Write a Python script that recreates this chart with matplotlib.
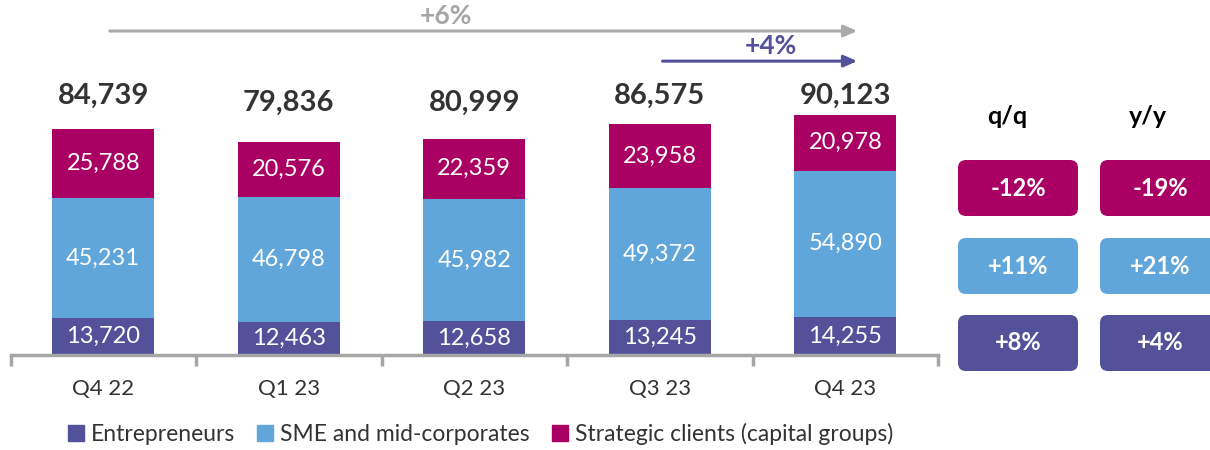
import matplotlib
matplotlib.use("Agg")
import matplotlib.pyplot as plt
from matplotlib.patches import FancyBboxPatch
from matplotlib.lines import Line2D

plt.rcParams['font.family'] = ['Lato', 'DejaVu Sans']

# loans by segment, PLN m
quarters = ["Q4 22", "Q1 23", "Q2 23", "Q3 23", "Q4 23"]
entrepreneurs = [13720, 12463, 12658, 13245, 14255]
sme = [45231, 46798, 45982, 49372, 54890]
strategic = [25788, 20576, 22359, 23958, 20978]
totals = [84739, 79836, 80999, 86575, 90123]

# dynamics panel (rows: strategic, sme, entrepreneurs)
qq = ["-12%", "+11%", "+8%"]
yy = ["-19%", "+21%", "+4%"]

c_ent = "#525199"
c_sme = "#61A6DA"
c_str = "#AA0063"
c_axis = "#A6A6A6"
c_txt = "#333333"

fig = plt.figure(figsize=(12.1, 4.5), dpi=100)
ax = fig.add_axes([10.5 / 1210, 95 / 450, 927.5 / 1210, 355 / 450])

x = list(range(len(quarters)))
w = 0.55
bot2 = [a + b for a, b in zip(entrepreneurs, sme)]
ax.bar(x, entrepreneurs, w, color=c_ent)
ax.bar(x, sme, w, bottom=entrepreneurs, color=c_sme)
ax.bar(x, strategic, w, bottom=bot2, color=c_str)

for i in x:
    ax.text(i, entrepreneurs[i] / 2, f"{entrepreneurs[i]:,}", ha="center",
            va="center", color="white", fontsize=17)
    ax.text(i, entrepreneurs[i] + sme[i] / 2, f"{sme[i]:,}", ha="center",
            va="center", color="white", fontsize=17)
    ax.text(i, bot2[i] + strategic[i] / 2, f"{strategic[i]:,}", ha="center",
            va="center", color="white", fontsize=17)
    # totals sit a little lower over the shorter bars
    ty = 97000 if totals[i] > 84000 else 94500
    ax.text(i, ty, f"{totals[i]:,}", ha="center", va="center",
            color=c_txt, fontsize=21, fontweight="bold")

ax.set_xlim(-0.5, 4.5)
ax.set_ylim(0, 133125)
for s in ["top", "right", "left"]:
    ax.spines[s].set_visible(False)
ax.spines["bottom"].set_color(c_axis)
ax.spines["bottom"].set_linewidth(2.5)
ax.set_yticks([])
ax.set_xticks(x)
ax.set_xticklabels(quarters, fontsize=16, color=c_txt)
ax.tick_params(axis="x", which="major", length=0, pad=17)
ax.set_xticks([i - 0.5 for i in range(len(quarters) + 1)], minor=True)
ax.tick_params(axis="x", which="minor", length=8, width=2.5, color=c_axis)

# growth arrows
ax.annotate("", xy=(4.08, 121500), xytext=(0.02, 121500),
            arrowprops=dict(arrowstyle="-|>,head_length=0.8,head_width=0.35",
                            color="#AAAAAA", lw=2.2))
ax.text(1.85, 127200, "+6%", ha="center", va="center", color="#A6A6A6",
        fontsize=19, fontweight="bold")
ax.annotate("", xy=(4.08, 110200), xytext=(3.0, 110200),
            arrowprops=dict(arrowstyle="-|>,head_length=0.8,head_width=0.35",
                            color=c_ent, lw=2.2))
ax.text(3.6, 115800, "+4%", ha="center", va="center", color=c_ent,
        fontsize=19, fontweight="bold")

# q/q and y/y boxes
bx = fig.add_axes([940 / 1210, 0, 270 / 1210, 1])
bx.set_xlim(940, 1210)
bx.set_ylim(450, 0)
bx.axis("off")
bx.text(1007, 117, "q/q", ha="center", va="center", fontsize=18,
        fontweight="bold", color="black")
bx.text(1148, 117, "y/y", ha="center", va="center", fontsize=18,
        fontweight="bold", color="black")
rows_y = [160, 238, 315]
colors = [c_str, c_sme, c_ent]
for r in range(3):
    for cx, vals in [(958, qq), (1100, yy)]:
        p = FancyBboxPatch((cx, rows_y[r]), 120, 56,
                           boxstyle="round,pad=0,rounding_size=8",
                           facecolor=colors[r], edgecolor="none",
                           clip_on=False)
        bx.add_patch(p)
        bx.text(cx + 60, rows_y[r] + 28, vals[r], ha="center", va="center",
                color="white", fontsize=17, fontweight="bold")

handles = [Line2D([], [], marker="s", linestyle="none", markersize=11,
                  color=c) for c in [c_ent, c_sme, c_str]]
labels = ["Entrepreneurs", "SME and mid-corporates",
          "Strategic clients (capital groups)"]
fig.legend(handles, labels, loc="center",
           bbox_to_anchor=(480 / 1210, 1 - 434 / 450),
           ncol=3, frameon=False, fontsize=16.5, handlelength=0.8,
           handletextpad=0.25, columnspacing=0.9, labelcolor=c_txt)

fig.savefig("out.png", dpi=100)
